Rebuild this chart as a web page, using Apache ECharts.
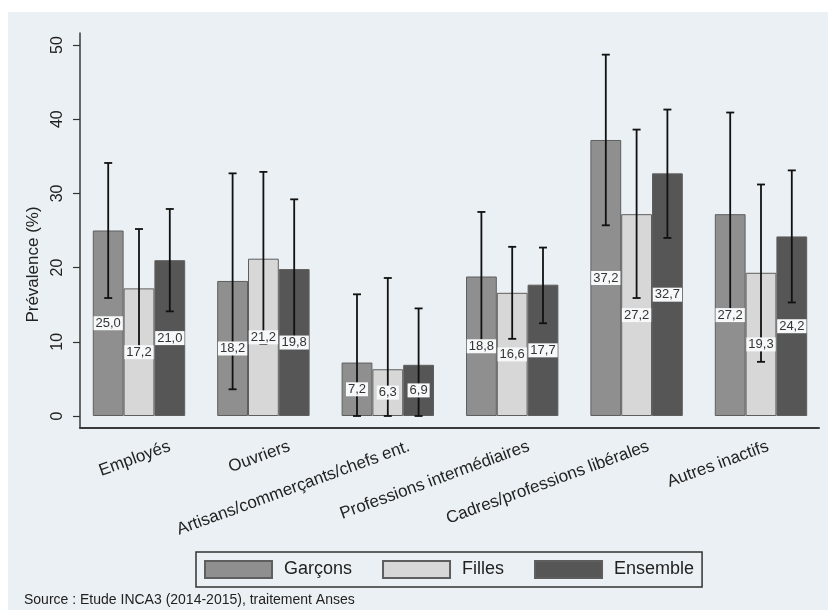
<!DOCTYPE html>
<html>
<head>
<meta charset="utf-8">
<script src="https://cdn.jsdelivr.net/npm/echarts@6/dist/echarts.min.js"></script>
<style>
  html, body { margin: 0; padding: 0; background: #fff; }
  #chart { position: absolute; left: 8px; top: 12px; width: 820px; height: 598px; }
</style>
</head>
<body>
<div id="chart"></div>
<script>
// categories and values
const categories = [
  "Employés",
  "Ouvriers",
  "Artisans/commerçants/chefs ent.",
  "Professions intermédiaires",
  "Cadres/professions libérales",
  "Autres inactifs",
];
const seriesNames = ["Garçons", "Filles", "Ensemble"];
const garcons = [25.0, 18.2, 7.2, 18.8, 37.2, 27.2];
const filles = [17.2, 21.2, 6.3, 16.6, 27.2, 19.3];
const ensemble = [21.0, 19.8, 6.9, 17.7, 32.7, 24.2];
// confidence intervals
const garconsLow = [15.9, 3.6, 0, 10.0, 25.7, 13.4];
const garconsHigh = [34.1, 32.7, 16.4, 27.5, 48.7, 40.9];
const fillesLow = [9.2, 9.7, 0, 10.4, 15.9, 7.3];
const fillesHigh = [25.2, 32.9, 18.6, 22.8, 38.6, 31.2];
const ensembleLow = [14.1, 10.4, 0, 12.5, 24.0, 15.3];
const ensembleHigh = [27.9, 29.2, 14.5, 22.7, 41.3, 33.1];
const yMin = 0, yMax = 50, yStep = 10;

const colors = ["#8f8f8f", "#d7d7d7", "#565656"];
const BAR_W = 30.8;
const FONT = "Liberation Sans, Arial, sans-serif";

const values = [garcons, filles, ensemble];
const lows = [garconsLow, fillesLow, ensembleLow];
const highs = [garconsHigh, fillesHigh, ensembleHigh];

const errData = [];
values.forEach((arr, s) => {
  arr.forEach((v, i) => errData.push([i, s, v, lows[s][i], highs[s][i]]));
});

const fmt = (v) => v.toFixed(1).replace(".", ",");

const chart = echarts.init(document.getElementById("chart"));
chart.setOption({
  backgroundColor: "#eaf0f3",
  animation: false,
  title: {
    text: "Source : Etude INCA3 (2014-2015), traitement Anses",
    left: 16,
    top: 581,
    padding: 0,
    textStyle: { fontFamily: FONT, fontSize: 14, fontWeight: "normal", color: "#222" },
  },
  legend: {
    data: seriesNames,
    left: 188,
    top: 540,
    padding: [8, 8, 8, 8],
    itemWidth: 67,
    itemHeight: 17,
    itemGap: 30,
    borderColor: "#333",
    borderWidth: 1.5,
    borderRadius: 0,
    icon: "rect",
    textStyle: { fontFamily: FONT, fontSize: 18, color: "#222", padding: [0, 0, 0, 7] },
  },
  grid: [
    { left: 68.8, width: 746.4, top: 33, height: 371 }, // bars
    { left: 72, width: 739, top: 33, height: 371 },     // y ticks and labels
    { left: 72, width: 739, top: 21, height: 395 },     // axis lines
    { left: 102, width: 746.4, top: 33, height: 371 },  // x labels
  ],
  xAxis: [
    { gridIndex: 0, type: "category", data: categories, show: false },
    { gridIndex: 1, type: "category", data: categories, show: false },
    {
      gridIndex: 2, type: "category", data: categories,
      axisLine: { onZero: false, lineStyle: { color: "#3a3a3a", width: 2 } },
      axisTick: { show: false }, axisLabel: { show: false },
    },
    {
      gridIndex: 3, type: "category", data: categories,
      axisLine: { show: false }, axisTick: { show: false },
      axisLabel: {
        interval: 0, rotate: 20, margin: 30,
        fontFamily: FONT, fontSize: 17, color: "#222",
      },
    },
  ],
  yAxis: [
    { gridIndex: 0, type: "value", min: yMin, max: yMax, show: false },
    {
      gridIndex: 1, type: "value", min: yMin, max: yMax, interval: yStep,
      name: "Prévalence (%)", nameLocation: "middle", nameGap: 29, nameRotate: 90,
      nameTextStyle: { fontFamily: FONT, fontSize: 17, color: "#222", padding: [0, 68, 0, 0] },
      axisLine: { show: false },
      axisTick: { show: true, length: 7, lineStyle: { color: "#333", width: 1.2 } },
      splitLine: { show: false },
      axisLabel: { rotate: 90, margin: 14, fontFamily: FONT, fontSize: 16, color: "#222" },
    },
    {
      gridIndex: 2, type: "value", min: 0, max: 1,
      axisLine: { show: true, lineStyle: { color: "#3a3a3a", width: 1.5 } },
      axisTick: { show: false }, axisLabel: { show: false }, splitLine: { show: false },
    },
    { gridIndex: 3, type: "value", min: yMin, max: yMax, show: false },
  ],
  series: [
    ...seriesNames.map((name, s) => ({
      name,
      type: "bar",
      xAxisIndex: 0,
      yAxisIndex: 0,
      barWidth: BAR_W,
      barGap: "0%",
      data: values[s],
      itemStyle: { color: colors[s], borderColor: "#5e5e5e", borderWidth: 1 },
    })),
    {
      type: "custom",
      name: "ic",
      xAxisIndex: 0,
      yAxisIndex: 0,
      z: 5,
      data: errData,
      renderItem(params, api) {
        const cat = api.value(0);
        const s = api.value(1);
        const v = api.value(2);
        const top = api.coord([cat, api.value(4)]);
        const bot = api.coord([cat, api.value(3)]);
        const mid = api.coord([cat, v / 2]);
        const x = top[0] + (s - 1) * BAR_W;
        const ls = { stroke: "#111", lineWidth: 1.8 };
        return {
          type: "group",
          children: [
            { type: "line", shape: { x1: x, y1: top[1], x2: x, y2: bot[1] }, style: ls },
            { type: "line", shape: { x1: x - 4, y1: top[1], x2: x + 4, y2: top[1] }, style: ls },
            { type: "line", shape: { x1: x - 4, y1: bot[1], x2: x + 4, y2: bot[1] }, style: ls },
            {
              type: "text",
              x: x,
              y: mid[1],
              style: {
                text: fmt(v),
                align: "center",
                verticalAlign: "middle",
                font: "13px " + FONT,
                fill: "#333",
                backgroundColor: "#f7f8f9",
                padding: [1, 2, 0, 2],
              },
            },
          ],
        };
      },
    },
  ],
});
</script>
</body>
</html>
